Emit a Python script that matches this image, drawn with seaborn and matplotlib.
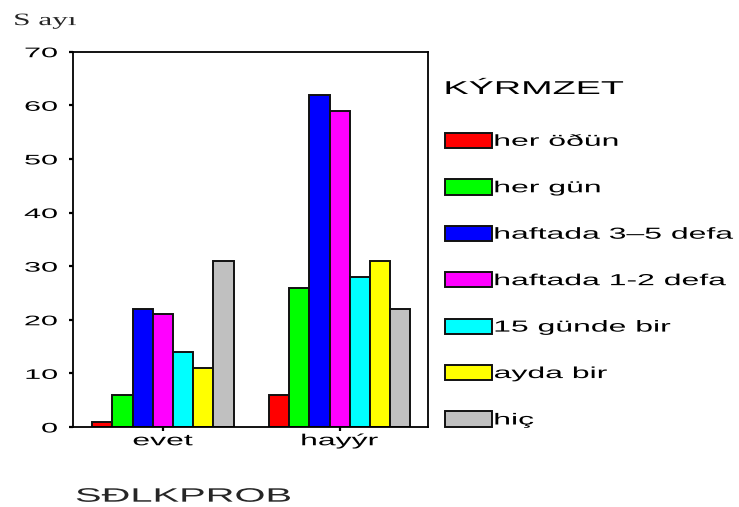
import numpy as np
import pandas as pd
import matplotlib
matplotlib.use("Agg")
import matplotlib.pyplot as plt
import seaborn as sns
from matplotlib.patheffects import AbstractPathEffect
from matplotlib.transforms import Affine2D

# --- data ---------------------------------------------------------------
groups = ["evet", "hayýr"]
frequency = ["her öðün", "her gün", "haftada 3–5 defa", "haftada 1-2 defa",
             "15 günde bir", "ayda bir", "hiç"]
evet_counts = [1, 6, 22, 21, 14, 11, 31]
hayir_counts = [6, 26, 62, 59, 28, 31, 22]
colors = ["#FF0000", "#00FF00", "#0000FF", "#FF00FF", "#00FFFF", "#FFFF00", "#C0C0C0"]
y_ticks = [0, 10, 20, 30, 40, 50, 60, 70]

df = pd.DataFrame({
    "SÐLKPROB": np.repeat(groups, len(frequency)),
    "KÝRMZET": frequency * len(groups),
    "Sayı": evet_counts + hayir_counts,
})


class HStretch(AbstractPathEffect):
    """Draw text glyphs widened horizontally about an anchor (0=left, 0.5=centre, 1=right)."""

    def __init__(self, sx=2.0, anchor=0.0):
        super().__init__()
        self.sx = sx
        self.anchor = anchor

    def draw_path(self, renderer, gc, tpath, affine, rgbFace=None):
        ext = tpath.get_extents()
        x0 = ext.x0 + self.anchor * ext.width
        widen = Affine2D().translate(-x0, 0).scale(self.sx, 1.0).translate(x0, 0)
        renderer.draw_path(gc, tpath, widen + affine, rgbFace)


sns.set_theme(style="white")
plt.rcParams["font.family"] = ["Liberation Sans", "DejaVu Sans"]
plt.rcParams["text.color"] = "black"
plt.rcParams["xtick.color"] = "black"
plt.rcParams["ytick.color"] = "black"

W, H = 739, 507
fig = plt.figure(figsize=(W / 100, H / 100), dpi=100)
left, right, top, bottom = 72.7, 428.0, 51.7, 427.0
ax = fig.add_axes([left / W, 1 - bottom / H, (right - left) / W, (bottom - top) / H])

sns.barplot(data=df, x="SÐLKPROB", y="Sayı", hue="KÝRMZET",
            order=groups, hue_order=frequency, palette=colors, saturation=1,
            edgecolor="#111111", linewidth=1.4, width=0.8, errorbar=None, ax=ax)

ax.set_xlim(-0.51, 1.5)
ax.set_ylim(0, 70)
ax.set_yticks(y_ticks)

for s in ax.spines.values():
    s.set_visible(True)
    s.set_color("black")
    s.set_linewidth(1.3)

ax.tick_params(axis="both", direction="out", length=3, width=1.6,
               color="black", left=True, bottom=True)
ax.tick_params(axis="y", labelsize=10, pad=8)
ax.tick_params(axis="x", labelsize=11.5, pad=1.5)

ax.set_ylabel("S ayı", rotation=0, fontsize=12.5, ha="left", va="baseline",
              family=["Liberation Serif", "DejaVu Serif"])
ax.yaxis.set_label_coords(-0.165, 1.071)
ax.set_xlabel("SÐLKPROB", fontsize=14, ha="left", va="baseline")
ax.xaxis.set_label_coords(0.009, -0.199)

handles, labels = ax.get_legend_handles_labels()
leg = ax.legend(handles, labels, title="KÝRMZET", loc="upper left",
                bbox_to_anchor=(445 / W, 1 - 81 / H), bbox_transform=fig.transFigure,
                frameon=False, fontsize=11.5, title_fontsize=13.4,
                handlelength=2.94, handleheight=1.1, handletextpad=0.15,
                labelspacing=1.9, borderpad=0, borderaxespad=0, alignment="left")
# extra room between the legend title and its first entry
leg._legend_box.sep = 25
for p in leg.get_patches():
    p.set_edgecolor("#111111")
    p.set_linewidth(1.4)

# widened lettering
for t in ax.get_yticklabels():
    t.set_path_effects([HStretch(2.2, 1.0)])
for t in ax.get_xticklabels():
    t.set_path_effects([HStretch(2.0, 0.5)])
for t in leg.get_texts():
    t.set_path_effects([HStretch(2.0, 0.0)])
leg.get_title().set_path_effects([HStretch(2.03, 0.0)])
ax.yaxis.label.set_path_effects([HStretch(1.8, 0.0)])
ax.xaxis.label.set_path_effects([HStretch(2.05, 0.0)])

fig.savefig("out.png", dpi=100)
